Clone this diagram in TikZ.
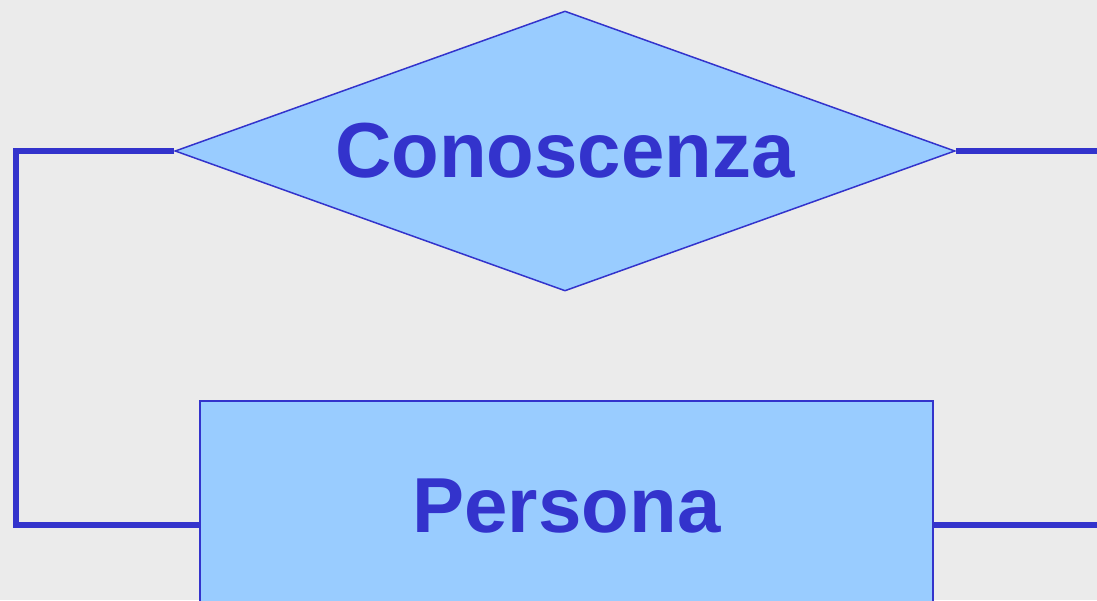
\documentclass[tikz,border=0pt]{standalone}
\usepackage{fontspec}
\setmainfont{Liberation Sans}
\usetikzlibrary{shapes.geometric}
\definecolor{erfill}{HTML}{99CCFF}
\definecolor{erline}{HTML}{3333CC}
\definecolor{erback}{HTML}{EBEBEB}
\begin{document}
\begin{tikzpicture}[x=1pt, y=-1pt,
    ertext/.style = {text = erline, font = \fontsize{78}{86}\selectfont\bfseries},
    link/.style = {draw = erline, line width = 5.5pt}]
        \fill[erback] (0,0) rectangle (1097,600);
        \useasboundingbox (0,0) rectangle (1097,600);
        \begin{scope}
        \clip (0,0) rectangle (1097,600);
        \node[draw = erline, fill = erfill, diamond, aspect = 2.786, inner sep = 0pt, line width = 1.5pt,
              minimum width = 780pt, minimum height = 280pt, ertext] (D) at (565,151) {Conoscenza};
        \node[draw = erline, fill = erfill, rectangle, line width = 1.5pt,
              minimum width = 733pt, minimum height = 210pt, ertext] (P) at (566.5,506) {Persona};
        \coordinate (L) at (16,525);
        \coordinate (R) at (1105,525);
        
        % Edge
        \draw[link] (D.west) -| (L) -- (L -| P.west);
        \draw[link] (D.east) -- (D.east -| R);
        \draw[link] (P.east |- R) -- (R);
        \end{scope}
        \end{tikzpicture}
\end{document}
